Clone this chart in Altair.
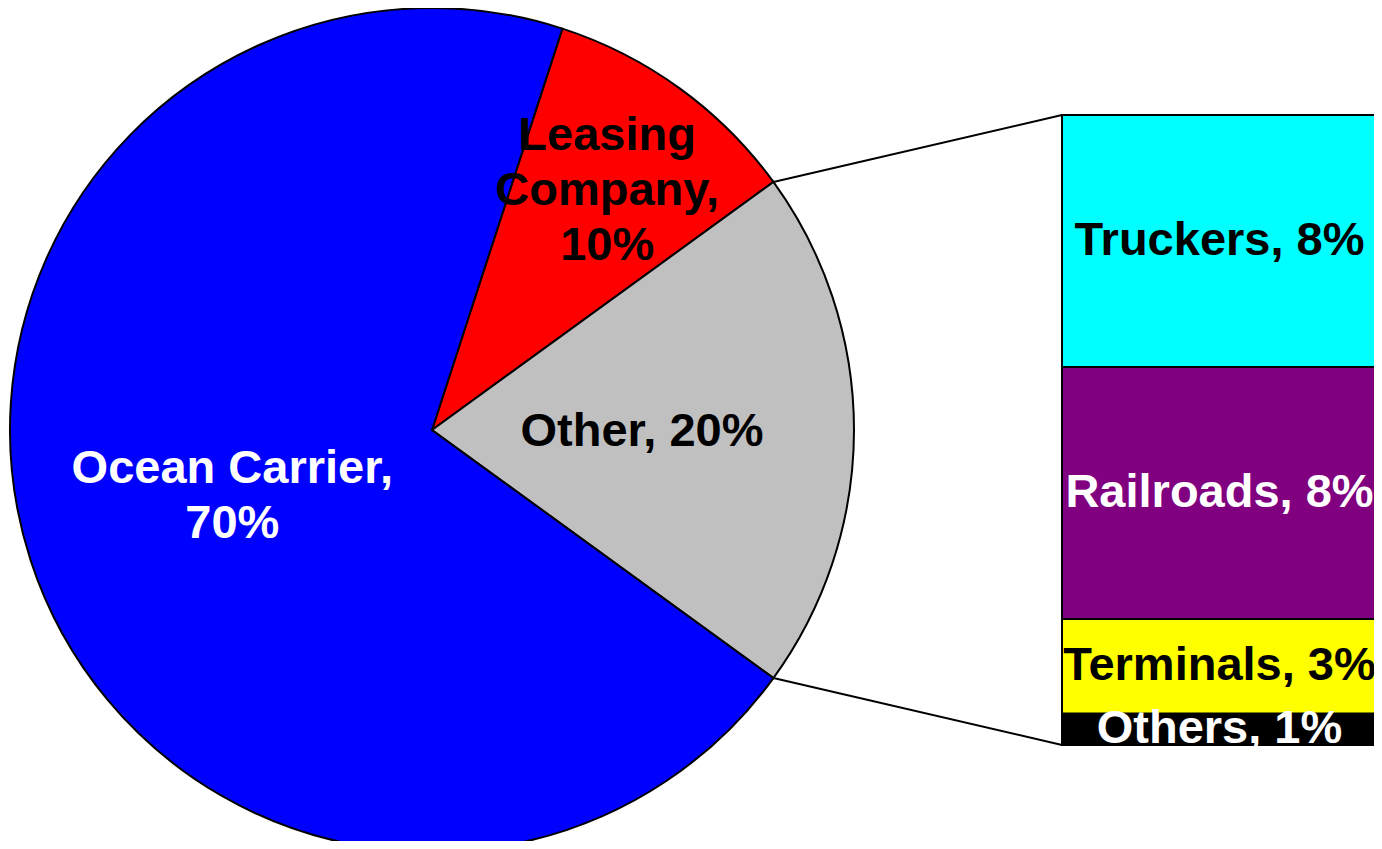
import math
import altair as alt
import pandas as pd

# ---- data ----
pie_labels = ["Leasing Company", "Other", "Ocean Carrier"]
pie_values = [10, 20, 70]
pie_text = ["Leasing\nCompany,\n10%", "Other, 20%", "Ocean Carrier,\n70%"]

bar_labels = ["Truckers", "Railroads", "Terminals", "Others"]
bar_values = [8, 8, 3, 1]

# ---- styles ----
pie_colors = ["#FF0000", "#C0C0C0", "#0000FF"]
bar_colors = ["#00FFFF", "#800080", "#FFFF00", "#000000"]
white_pie_text = ["Ocean Carrier"]
white_bar_text = ["Railroads", "Others"]
FONT = "Liberation Sans"
FS = 47
LH = 55

# ---- layout ----
W, H = 1366, 833
cx, cy, R = 424, 422, 422
bar_x0, bar_x1 = 1054, 1369
bar_top, bar_bot = 107, 737
label_radius = {"Leasing Company": 298, "Other": 210, "Ocean Carrier": 210}

total = sum(pie_values)
other_idx = pie_labels.index("Other")
before = sum(pie_values[:other_idx])
# rotate so the "Other" slice is centred at 3 o'clock
start = math.pi / 2 - 2 * math.pi * (before + pie_values[other_idx] / 2) / total
theta_range = [start, start + 2 * math.pi]

cum = 0
t0, t1 = [], []
for v in pie_values:
    t0.append(cum)
    cum += v
    t1.append(cum)
pie_df = pd.DataFrame({"label": pie_labels, "value": pie_values, "text": pie_text,
                       "t0": t0, "t1": t1,
                       "mid": [(a + b) / 2 for a, b in zip(t0, t1)]})

# stacked bar (bottom-up cumulative from last item)
rows = []
acc = 0
for lab, val in reversed(list(zip(bar_labels, bar_values))):
    rows.append({"label": lab, "value": val, "y0": acc, "y1": acc + val,
                 "mid": acc + val / 2, "text": f"{lab}, {val}%"})
    acc += val
bar_df = pd.DataFrame(rows)

# connector lines from pie edge of "Other" slice to bar corners
a1 = start + 2 * math.pi * before / total
a2 = start + 2 * math.pi * (before + pie_values[other_idx]) / total
line_df = pd.DataFrame({
    "x": [cx + R * math.sin(a1), cx + R * math.sin(a2)],
    "y": [cy - R * math.cos(a1), cy - R * math.cos(a2)],
    "x2": [bar_x0, bar_x0],
    "y2": [bar_top, bar_bot],
})

theta_scale = alt.Scale(range=theta_range, domain=[0, total])
ybar_scale = alt.Scale(domain=[0, acc], range=[bar_bot, bar_top])

lines = alt.Chart(line_df).mark_rule(color="black", strokeWidth=2).encode(
    x=alt.X("x:Q", scale=None), y=alt.Y("y:Q", scale=None),
    x2="x2:Q", y2="y2:Q",
)

arcs = alt.Chart(pie_df).mark_arc(radius=R, stroke="black", strokeWidth=2).encode(
    theta=alt.Theta("t0:Q", scale=theta_scale), theta2="t1:Q",
    color=alt.Color("label:N", scale=alt.Scale(domain=pie_labels, range=pie_colors), legend=None),
    x=alt.value(cx), y=alt.value(cy),
)

text_layers = []
for lab, txt in zip(pie_labels, pie_text):
    n = txt.count("\n") + 1
    text_layers.append(
        alt.Chart(pie_df).transform_filter(alt.datum.label == lab).mark_text(
            radius=label_radius[lab], font=FONT, fontSize=FS, fontWeight="bold",
            lineBreak="\n", lineHeight=LH, align="center", baseline="middle",
            dy=-(n - 1) * LH / 2 + 2,
            color="white" if lab in white_pie_text else "black",
        ).encode(
            theta=alt.Theta("mid:Q", scale=theta_scale),
            text="text:N",
            x=alt.value(cx), y=alt.value(cy),
        )
    )

bars = alt.Chart(bar_df).mark_rect(stroke="black", strokeWidth=2).encode(
    x=alt.value(bar_x0), x2=alt.value(bar_x1),
    y=alt.Y("y0:Q", scale=ybar_scale, axis=None), y2="y1:Q",
    color=alt.Color("label:N", scale=alt.Scale(domain=bar_labels, range=bar_colors), legend=None),
)

bar_txt = alt.Chart(bar_df).mark_text(
    font=FONT, fontSize=FS, fontWeight="bold", align="center", baseline="middle",
).encode(
    x=alt.value((bar_x0 + bar_x1) / 2),
    y=alt.Y("mid:Q", scale=ybar_scale, axis=None),
    text="text:N",
    color=alt.condition(alt.FieldOneOfPredicate(field="label", oneOf=white_bar_text),
                        alt.value("white"), alt.value("black")),
)

chart = alt.layer(lines, arcs, *text_layers, bars, bar_txt).resolve_scale(
    color="independent"
).properties(
    width=W, height=H, padding=0, background="white",
    autosize=alt.AutoSizeParams(type="none"),
).configure_view(stroke=None, strokeWidth=0)

chart.save("out.html", embed_options={"renderer": "svg", "actions": False})
